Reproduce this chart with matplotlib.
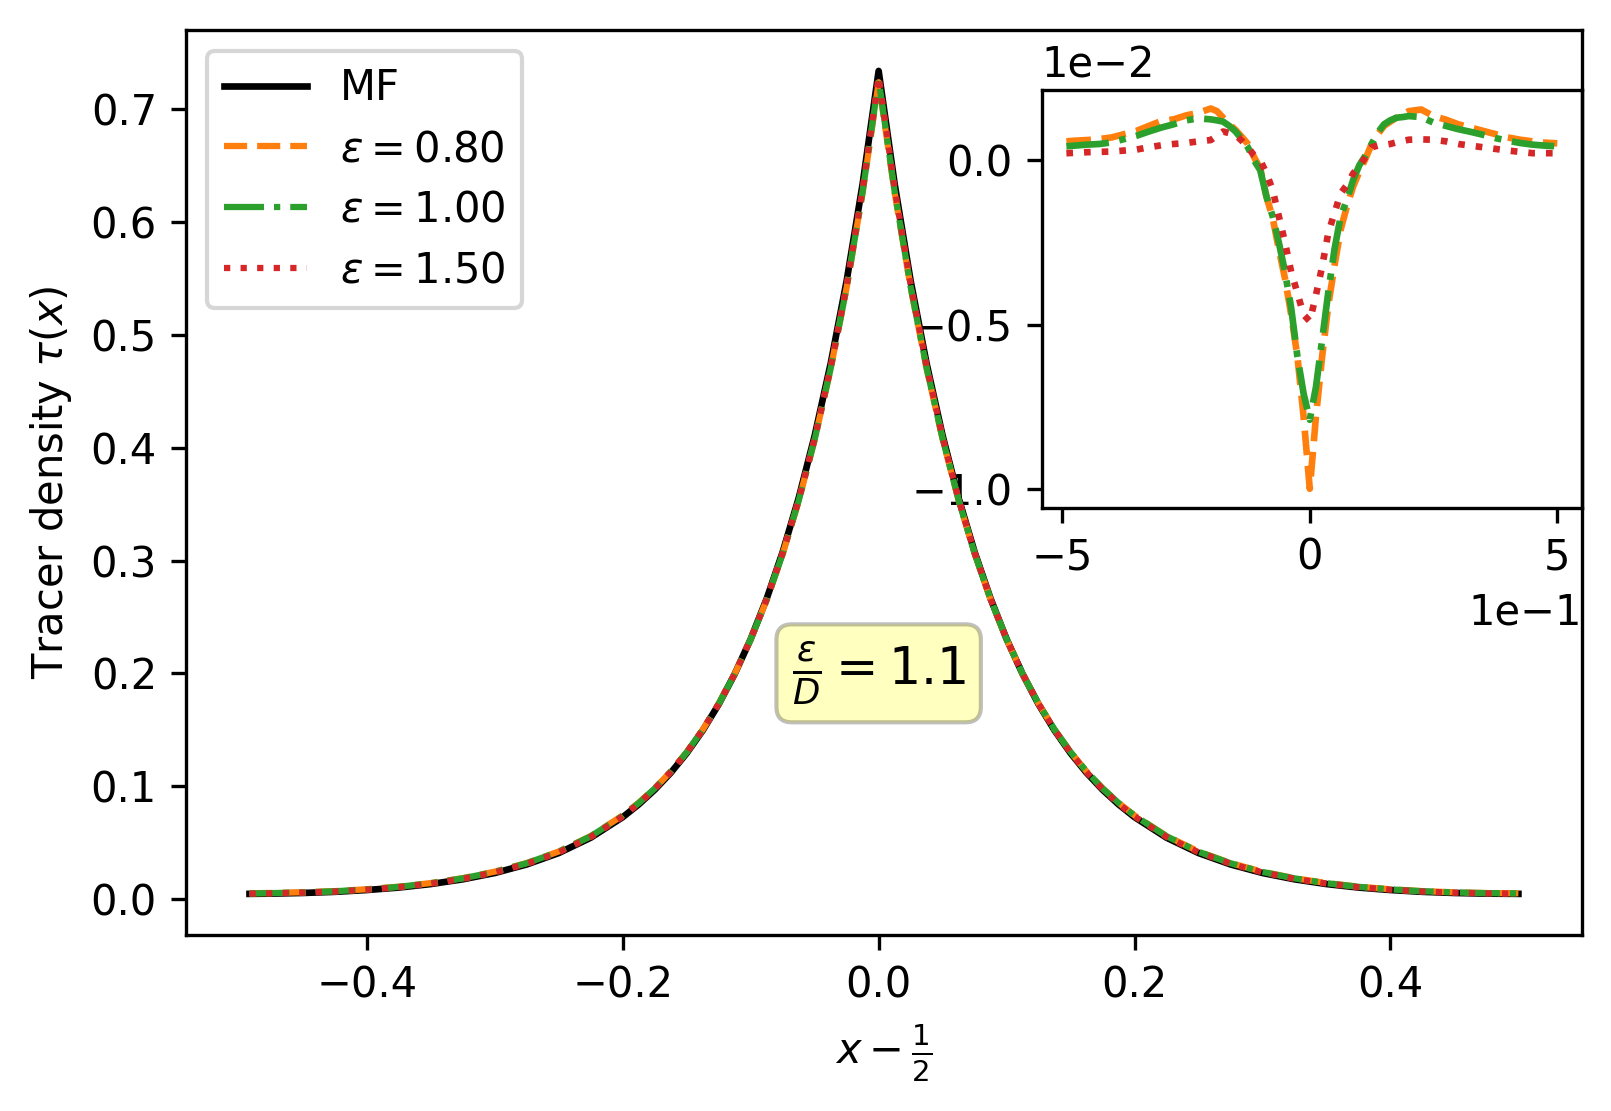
import numpy as np
import matplotlib
matplotlib.use("Agg")
import matplotlib.pyplot as plt

plt.rcParams['font.family'] = ['DejaVu Sans']
FS = 10
plt.rcParams['font.size'] = FS

# x - 1/2 grid
x_neg = [-0.4917, -0.475, -0.45, -0.425, -0.4, -0.375, -0.35, -0.325, -0.3, -0.275,
         -0.25, -0.225, -0.2, -0.1875, -0.175, -0.1625, -0.15, -0.1375, -0.125,
         -0.1125, -0.1, -0.0875, -0.075, -0.0625, -0.05, -0.0375, -0.025, -0.0125]
x_pos = [0.0125, 0.025, 0.0375, 0.05, 0.0625, 0.075, 0.0875, 0.1, 0.1125, 0.125,
         0.1375, 0.15, 0.1625, 0.175, 0.1875, 0.2, 0.225, 0.25, 0.275, 0.3, 0.325,
         0.35, 0.375, 0.4, 0.425, 0.45, 0.475, 0.5]
x = np.array(x_neg + [0.0] + x_pos)

# mean-field tracer density
mf_neg = [0.0045, 0.0047, 0.0053, 0.0063, 0.0079, 0.0101, 0.0132, 0.0174, 0.0230,
          0.0306, 0.0407, 0.0543, 0.0725, 0.0838, 0.0968, 0.1118, 0.1292, 0.1493,
          0.1725, 0.1994, 0.2304, 0.2662, 0.3076, 0.3554, 0.4107, 0.4746, 0.548, 0.634]
mf_peak = [0.734]
mf_pos = [0.634, 0.548, 0.4746, 0.4107, 0.3554, 0.3076, 0.2662, 0.2304, 0.1994,
          0.1725, 0.1493, 0.1292, 0.1118, 0.0968, 0.0838, 0.0725, 0.0543, 0.0407,
          0.0306, 0.0230, 0.0174, 0.0132, 0.0101, 0.0079, 0.0063, 0.0053, 0.0047, 0.0045]
mf = np.array(mf_neg + mf_peak + mf_pos)

# deviations from MF (units of 1e-2)
d080 = [0.058, 0.060, 0.062, 0.065, 0.070, 0.080, 0.090, 0.105, 0.120, 0.125,
        0.137, 0.145, 0.158, 0.150, 0.130, 0.110, 0.093, 0.072, 0.050, 0.010,
        -0.025, -0.110, -0.175, -0.27, -0.36, -0.47, -0.597, -0.78,
        -1.0,
        -0.78, -0.597, -0.44, -0.32, -0.21, -0.14, -0.08, -0.035, 0.005, 0.05,
        0.08, 0.105, 0.118, 0.13, 0.14, 0.15, 0.155, 0.135, 0.124, 0.11, 0.10,
        0.09, 0.08, 0.07, 0.063, 0.058, 0.054, 0.052]
d100 = [0.043, 0.045, 0.048, 0.050, 0.055, 0.065, 0.075, 0.088, 0.10, 0.110,
        0.122, 0.128, 0.125, 0.122, 0.118, 0.105, 0.088, 0.065, 0.040, 0.0,
        -0.03, -0.11, -0.17, -0.25, -0.34, -0.45, -0.597, -0.71,
        -0.79,
        -0.69, -0.546, -0.40, -0.27, -0.17, -0.12, -0.06, -0.015, 0.015, 0.05,
        0.085, 0.11, 0.122, 0.13, 0.132, 0.135, 0.132, 0.115, 0.105, 0.095, 0.087,
        0.078, 0.068, 0.06, 0.053, 0.048, 0.045, 0.043]
d150 = [0.022, 0.023, 0.025, 0.026, 0.027, 0.030, 0.033, 0.040, 0.046, 0.050,
        0.053, 0.058, 0.062, 0.075, 0.088, 0.083, 0.078, 0.060, 0.040, 0.015,
        0.0, -0.039, -0.09, -0.17, -0.25, -0.34, -0.404, -0.47,
        -0.49,
        -0.41, -0.323, -0.22, -0.16, -0.10, -0.075, -0.04, -0.018, 0.01, 0.04,
        0.045, 0.047, 0.05, 0.055, 0.059, 0.063, 0.064, 0.063, 0.058, 0.05, 0.045,
        0.04, 0.035, 0.03, 0.026, 0.022, 0.022, 0.022]

eps_labels = [r'$\varepsilon = 0.80$', r'$\varepsilon = 1.00$', r'$\varepsilon = 1.50$']
deltas = [np.array(d080) * 1e-2, np.array(d100) * 1e-2, np.array(d150) * 1e-2]
colors = ['tab:orange', 'tab:green', 'tab:red']
styles = ['--', '-.', ':']

fig = plt.figure(figsize=(1611 / 300, 1111 / 300), dpi=300)
ax = fig.add_axes([0.1155, 0.1584, 0.8664, 0.8148])

ax.plot(x, mf, color='black', lw=1.6, ls='-', label='MF')
for d, c, s, lab in zip(deltas, colors, styles, eps_labels):
    ax.plot(x, mf + d, color=c, ls=s, lw=1.5, label=lab)

ax.set_xlabel(r'$x - \frac{1}{2}$')
ax.set_ylabel(r'Tracer density $\tau(x)$')
ax.legend(loc='upper left', fontsize=FS, labelspacing=0.45)

ax.text(0.0, 0.2, r'$\frac{\varepsilon}{D} = 1.1$', ha='center', va='center',
        fontsize=12.2, bbox=dict(boxstyle='round', facecolor='yellow', alpha=0.25))

ins = ax.inset_axes([0.6131, 0.472, 0.3869, 0.462], zorder=1)
for d, c, s in zip(deltas, colors, styles):
    ins.plot(x, d, color=c, ls=s, lw=1.6)
ins.set_xticks([-0.5, 0.0, 0.5])
ins.set_yticks([-0.01, -0.005, 0.0])
ins.ticklabel_format(style='sci', axis='both', scilimits=(0, 0))

fig.savefig('out.png', dpi=300)
